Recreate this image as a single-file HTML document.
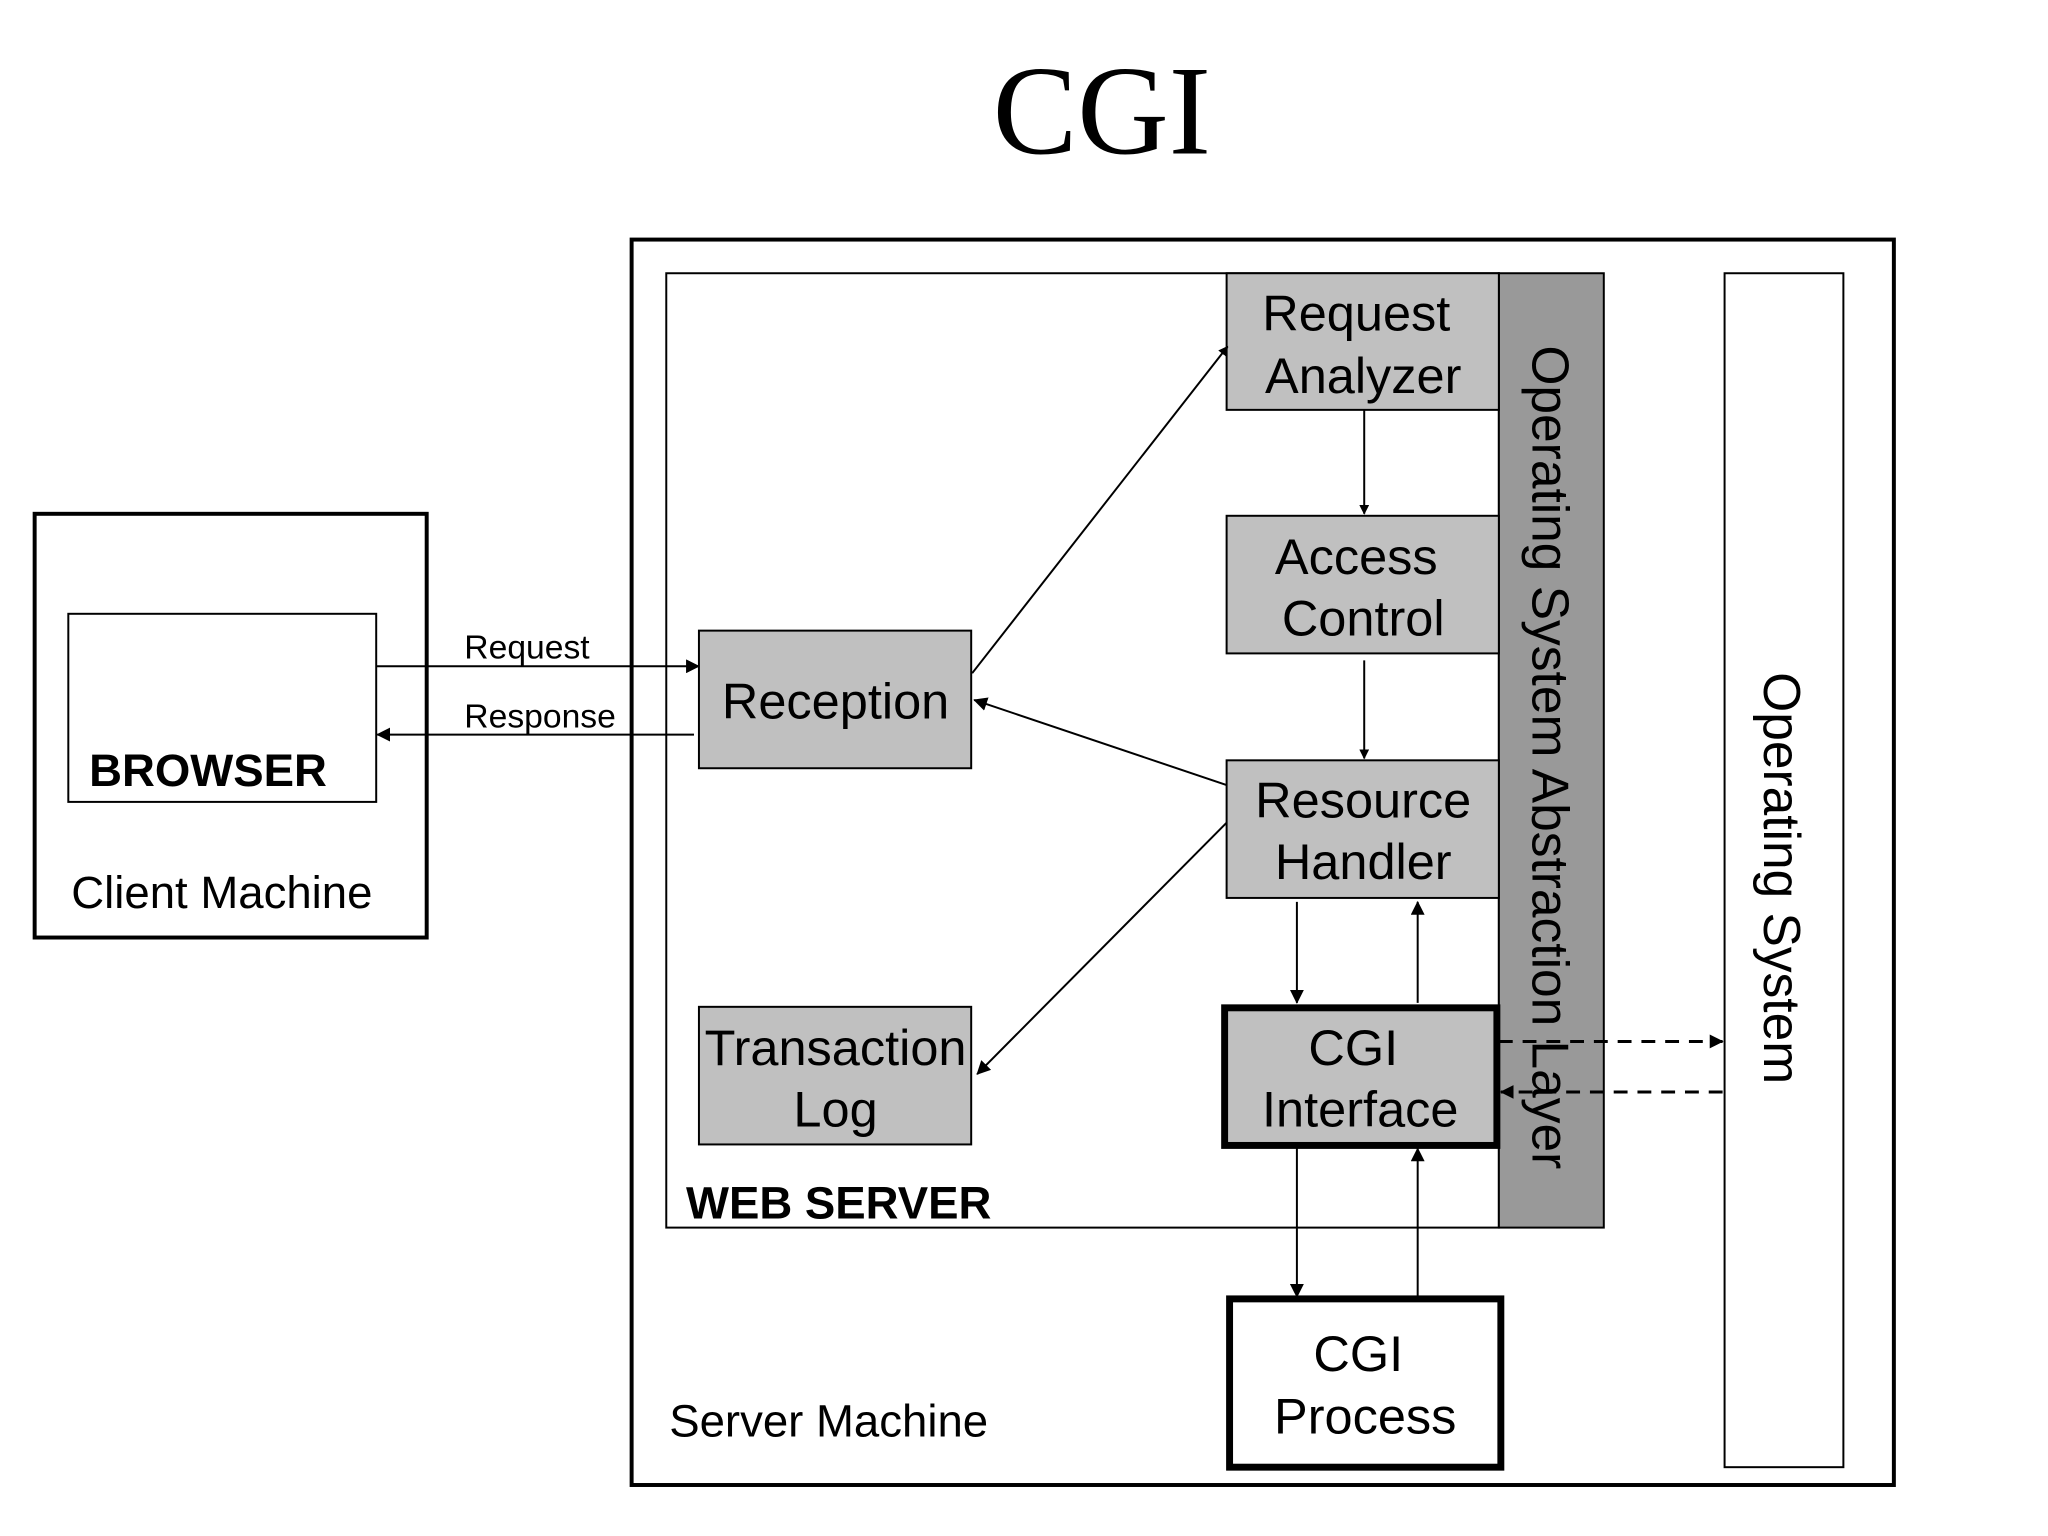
<!DOCTYPE html>
<html><head><meta charset="utf-8"><style>
html,body{margin:0;padding:0;background:#fff;}
svg{display:block;}
text{font-family:"Liberation Sans",Arial,sans-serif;fill:#000;}
</style></head><body>
<svg width="2048" height="1536" viewBox="0 0 2048 1536" xmlns="http://www.w3.org/2000/svg">
<defs>
<marker id="a" markerWidth="10" markerHeight="10" refX="9" refY="5" orient="auto" markerUnits="userSpaceOnUse" viewBox="0 0 10 10"><path d="M0,0 L10,5 L0,10 z" fill="#000"/></marker>
<marker id="b" markerWidth="14" markerHeight="14" refX="13" refY="7" orient="auto" markerUnits="userSpaceOnUse" viewBox="0 0 14 14"><path d="M0,0 L14,7 L0,14 z" fill="#000"/></marker>
</defs>
<g transform="scale(0.99)">
<text x="1113" y="155" font-size="128" text-anchor="middle" style="font-family:'Liberation Serif',serif">CGI</text>

<rect x="35" y="519" width="396" height="428" fill="#fff" stroke="#000" stroke-width="4"/>
<rect x="69" y="620" width="311" height="190" fill="#fff" stroke="#000" stroke-width="2"/>
<text x="90" y="794" font-size="46" font-weight="bold">BROWSER</text>
<text x="72" y="917" font-size="46">Client Machine</text>

<rect x="638" y="242" width="1275" height="1258" fill="#fff" stroke="#000" stroke-width="4"/>
<rect x="673" y="276" width="841" height="964" fill="#fff" stroke="#000" stroke-width="2"/>
<rect x="1514" y="276" width="106" height="964" fill="#999" stroke="#000" stroke-width="2"/>
<rect x="1742" y="276" width="120" height="1206" fill="#fff" stroke="#000" stroke-width="2"/>
<text x="693" y="1231" font-size="46" font-weight="bold">WEB SERVER</text>
<text x="676" y="1451" font-size="46">Server Machine</text>

<text transform="translate(1548,765) rotate(90)" font-size="52" text-anchor="middle">Operating System Abstraction Layer</text>
<text transform="translate(1782,887) rotate(90)" font-size="52" text-anchor="middle">Operating System</text>

<g font-size="51" text-anchor="middle">
<rect x="1239" y="276" width="275" height="138" fill="#c0c0c0" stroke="#000" stroke-width="2"/>
<text x="1370" y="334">Request</text><text x="1377" y="397">Analyzer</text>
<rect x="1239" y="521" width="275" height="139" fill="#c0c0c0" stroke="#000" stroke-width="2"/>
<text x="1370" y="580">Access</text><text x="1377" y="642">Control</text>
<rect x="1239" y="768" width="275" height="139" fill="#c0c0c0" stroke="#000" stroke-width="2"/>
<text x="1377" y="826">Resource</text><text x="1377" y="888">Handler</text>
<rect x="1237" y="1018" width="275" height="139" fill="#c0c0c0" stroke="#000" stroke-width="7"/>
<text x="1367" y="1076">CGI</text><text x="1374" y="1138">Interface</text>
<rect x="706" y="637" width="275" height="139" fill="#c0c0c0" stroke="#000" stroke-width="2"/>
<text x="844" y="726">Reception</text>
<rect x="706" y="1017" width="275" height="139" fill="#c0c0c0" stroke="#000" stroke-width="2"/>
<text x="844" y="1076">Transaction</text><text x="844" y="1138">Log</text>
<rect x="1242" y="1312" width="274" height="170" fill="#fff" stroke="#000" stroke-width="7"/>
<text x="1372" y="1385">CGI</text><text x="1379" y="1448">Process</text>
</g>

<g stroke="#000" stroke-width="2" fill="none">
<line x1="380" y1="673" x2="706" y2="673" marker-end="url(#b)"/>
<line x1="701" y1="742" x2="381" y2="742" marker-end="url(#b)"/>
<line x1="982" y1="680" x2="1240" y2="350" marker-end="url(#a)"/>
<line x1="1239" y1="793" x2="984" y2="707" marker-end="url(#b)"/>
<line x1="1239" y1="831" x2="987" y2="1085" marker-end="url(#b)"/>
<line x1="1378" y1="414" x2="1378" y2="519" marker-end="url(#a)"/>
<line x1="1378" y1="667" x2="1378" y2="766" marker-end="url(#a)"/>
<line x1="1310" y1="911" x2="1310" y2="1013" marker-end="url(#b)"/>
<line x1="1432" y1="1013" x2="1432" y2="911" marker-end="url(#b)"/>
<line x1="1310" y1="1160" x2="1310" y2="1310" marker-end="url(#b)"/>
<line x1="1432" y1="1310" x2="1432" y2="1160" marker-end="url(#b)"/>
<line x1="1514" y1="1052" x2="1740" y2="1052" stroke-width="3" stroke-dasharray="14,10" marker-end="url(#b)"/>
<line x1="1740" y1="1103" x2="1516" y2="1103" stroke-width="3" stroke-dasharray="14,10" marker-end="url(#b)"/>
</g>
<text x="469" y="665" font-size="34">Request</text>
<text x="469" y="735" font-size="34">Response</text>
</g>
</svg>
</body></html>
